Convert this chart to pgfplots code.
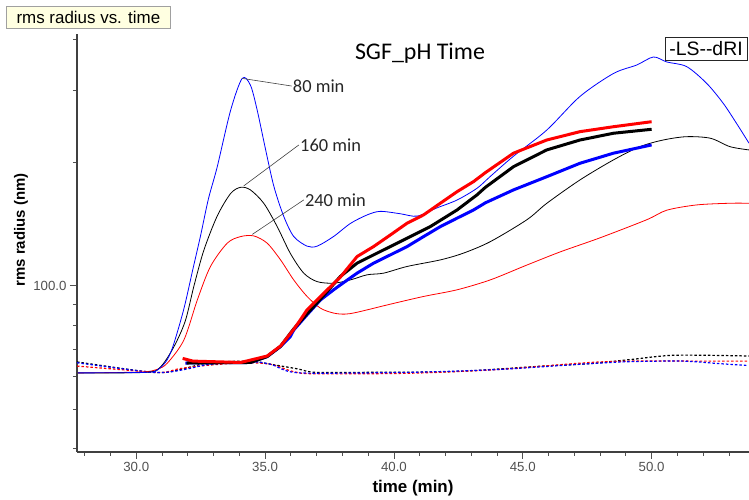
\documentclass[border=0pt]{standalone}
\usepackage{fontspec}
\setmainfont{Liberation Sans}
\newfontfamily\calibri{Carlito}
\usepackage{pgfplots}
\usepackage{pgfplotstable}
\pgfplotsset{compat=1.18}
\definecolor{tickgray}{HTML}{505050}
\definecolor{axgray}{HTML}{404040}
\definecolor{boxyellow}{HTML}{FFFFE1}
\definecolor{boxborder}{HTML}{A0A0A0}

\pgfplotstableread{
x y
27.73 61.3
30.40 61.5
30.85 62.5
31.20 66.0
31.45 72
31.85 88
32.20 110
32.50 133
32.80 163
33.14 195
33.66 268
34.11 321
34.43 309
34.69 269
35.02 215
35.34 175
35.72 148
36.11 132
36.63 125
37.02 125
37.66 132
38.31 142
38.96 149
39.47 152
40.24 150
40.90 148
41.67 155
42.45 162
43.22 173
43.74 185
44.63 207
45.93 240
47.22 290
48.52 330
49.42 346
50.07 362
50.59 352
51.36 343
52.14 312
52.78 279
53.30 249
53.78 223
}\blueLS

\pgfplotstableread{
x y
27.73 61.3
30.40 61.5
30.95 63.5
31.46 71
31.90 82
32.24 100
32.62 122
33.14 148
33.66 168
34.05 174
34.43 171.5
34.95 159
35.47 139.5
35.98 120
36.50 107.4
37.02 102.4
37.66 101.5
38.31 103.4
38.96 106.4
39.60 107.4
40.51 111.5
41.80 115.7
42.70 120.2
43.74 128.2
45.16 145
45.93 159
47.22 181.4
48.52 203
49.55 218.7
50.45 227
51.36 231.3
52.29 229.2
53.04 218.7
53.78 214.7
}\blackLS

\pgfplotstableread{
x y
27.73 61.3
30.17 61.6
30.80 62.5
31.21 64.8
31.85 73.8
32.37 92.4
32.88 111.5
33.53 127.1
34.05 131.9
34.56 132.4
35.08 127.1
35.60 115.7
36.11 103.4
36.63 94.2
37.15 88.2
37.66 85.8
38.10 85.3
38.57 86.2
39.86 90.2
41.15 94.2
42.45 97.8
43.74 103.4
45.10 112
46.45 121
48.00 131
49.81 145
50.59 153
51.75 157.6
53.04 159.1
53.78 159.1
}\redLS

\pgfplotstableread{
x y
31.91 64.8
33.00 64.9
34.43 65.0
35.08 67.2
35.60 71.1
35.98 75.2
36.11 78.0
36.63 85.0
37.15 92.4
37.66 97.8
37.92 100.5
38.57 107.4
39.21 113.6
39.86 119.0
40.51 124.7
41.15 131.9
41.80 139.5
42.45 146.3
43.09 153.2
43.55 159.5
44.64 171.5
45.93 184.7
47.22 199.2
48.52 210.8
50.00 220.8
}\blueThick

\pgfplotstableread{
x y
31.95 64.8
34.43 65.0
35.08 67.2
35.60 71.2
36.11 78.5
36.63 85.5
37.28 94.8
37.92 105.4
38.57 113.6
39.60 122.4
40.51 130.7
41.41 139.5
42.45 153.2
43.22 166.7
43.55 174
44.64 195.4
45.93 214.7
47.22 227.0
48.52 235.8
50.00 241.1
}\blackThick

\pgfplotstableread{
x y
31.80 66.5
32.20 65.5
34.05 65.0
35.08 67.4
35.60 71.3
36.11 78.3
36.37 82.6
36.63 87.4
37.15 94.2
37.28 96.0
37.92 105
38.57 117.9
39.21 124.7
39.86 133.1
40.51 142.2
41.15 149.0
41.80 159.1
42.45 169.8
43.09 179.7
43.55 189
44.64 210.8
45.93 227.0
47.22 237.9
48.52 244.6
50.00 251.6
}\redThick

\pgfplotstableread{
x y
27.70 65.2
30.30 61.8
31.16 61.5
31.99 63.1
32.84 64.9
34.40 65.5
35.25 64.3
36.26 62.7
36.95 61.5
38.99 61.5
42.38 61.8
45.79 63.7
47.50 64.5
49.20 66.1
50.91 67.7
53.78 67.4
}\blackRI

\pgfplotstableread{
x y
27.70 64.9
30.30 61.8
31.16 61.5
31.99 62.7
32.84 64.3
34.40 65.3
35.23 64.3
35.91 61.8
36.91 61.2
40.67 61.5
44.07 62.5
47.46 64.5
49.16 65.3
51.22 65.5
52.60 64.6
53.74 63.9
}\blueRI

\pgfplotstableread{
x y
27.70 63.7
30.30 61.8
31.10 61.5
31.64 62.7
32.68 63.9
34.20 64.9
35.23 64.3
36.08 61.8
36.91 61.0
40.67 61.2
44.07 62.5
47.46 64.9
49.16 65.5
51.72 65.5
53.74 65.5
}\redRI

\begin{document}
\begin{tikzpicture}
\useasboundingbox (0,0) rectangle (749bp,500bp);
\begin{axis}[
  at={(77bp,48bp)}, anchor=south west,
  scale only axis, width=672bp, height=418bp,
  xmin=27.7, xmax=53.78, ymin=39.3, ymax=412, ymode=log,
  axis lines=left,
  axis line style={-, axgray, line width=1.5bp},
  xtick={30,35,40,45,50}, xticklabels={30.0,35.0,40.0,45.0,50.0},
  minor xtick={28,29,31,32,33,34,36,37,38,39,41,42,43,44,46,47,48,49,51,52,53},
  ytick={100}, yticklabels={100.0},
  minor ytick={40,50,60,70,80,90,200,300,400},
  tick align=outside,
  major tick length=7bp, minor tick length=4bp,
  tick style={tickgray, line width=0.8bp},
  /pgf/number format/assume math mode=true,
  ticklabel style={font=\fontsize{13.3}{15}\selectfont, text=tickgray},
  xlabel={\textbf{time (min)}},
  ylabel={\textbf{rms radius (nm)}},
  xlabel style={font=\fontsize{17}{19}\selectfont, at={(axis description cs:0.5,0)}, anchor=center, yshift=-36bp},
  ylabel style={font=\fontsize{15}{17}\selectfont, at={(axis description cs:-0.0833,0.531)}, anchor=center},
  every axis plot/.append style={line join=round},
]
% dRI dashed
\addplot[black, line width=1.2bp, dash pattern=on 2.5bp off 2bp, smooth] table {\blackRI};
\addplot[red, line width=1.2bp, dash pattern=on 2.5bp off 2bp, smooth] table {\redRI};
\addplot[blue, line width=1.2bp, dash pattern=on 2.5bp off 2bp, smooth] table {\blueRI};
% thin LS
\addplot[red, line width=0.8bp, smooth] table {\redLS};
\addplot[black, line width=0.8bp, smooth] table {\blackLS};
\addplot[blue, line width=0.8bp, smooth] table {\blueLS};
% thick LS
\addplot[blue, line width=3bp] table {\blueThick};
\addplot[black, line width=3bp] table {\blackThick};
\addplot[red, line width=3bp] table {\redThick};
% annotations
\draw[black!75, line width=0.6bp] (axis cs:34.11,321) -- (axis cs:36.03,307.5)
  node[anchor=west, inner sep=1bp, font=\calibri\fontsize{18.5}{22}\selectfont, text=black!85] {80 min};
\draw[black!75, line width=0.6bp] (axis cs:34.17,175.4) -- (axis cs:36.31,220.8)
  node[anchor=west, inner sep=1bp, font=\calibri\fontsize{18.5}{22}\selectfont, text=black!85] {160 min};
\draw[black!75, line width=0.6bp] (axis cs:34.50,133.5) -- (axis cs:36.50,162.1)
  node[anchor=west, inner sep=1bp, font=\calibri\fontsize{18.5}{22}\selectfont, text=black!85] {240 min};
\end{axis}
\node[draw=boxborder, fill=boxyellow, line width=0.8bp, anchor=north west,
  minimum width=164bp, minimum height=22bp, inner sep=0pt,
  font=\fontsize{17}{20}\selectfont] at (6bp,494bp) {rms radius vs. time};
\node[font=\calibri\fontsize{24}{28}\selectfont] at (420bp,447bp) {SGF\_pH Time};
\node[draw=black!85, fill=white, line width=0.8bp, minimum width=82bp, minimum height=23bp,
  inner sep=0pt, font=\fontsize{19.5}{22}\selectfont] at (706bp,451.5bp) {-LS-{}-dRI};
\end{tikzpicture}
\end{document}
